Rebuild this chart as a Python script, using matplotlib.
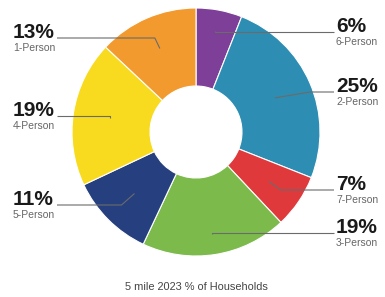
import numpy as np
import matplotlib
matplotlib.use("Agg")
import matplotlib.pyplot as plt

categories = ['6-Person', '2-Person', '7-Person', '3-Person', '5-Person', '4-Person', '1-Person']
values = [6, 25, 7, 19, 11, 19, 13]
pct_labels = ['6%', '25%', '7%', '19%', '11%', '19%', '13%']
colors = ['#7D3F98', '#2E8DB2', '#E0393C', '#7CBA4C', '#263F7E', '#F8DB1E', '#F29A2E']
title = '5 mile 2023 % of Households'

W, H = 385, 297
# layout (pixel positions, y measured from top)
cx, cy, R, hole = 196, 132, 124, 46
side = ['R', 'R', 'R', 'R', 'L', 'L', 'L']
line_y = [32, 92, 190, 233, 205, 116, 38]
inner_r = [103, 86, 88, 103, 87, 87, 91]
elbow_dx = [0, 35, 12, 0, -13, 0, -5]
xL_text, xL_line = 13, 57
xR_text, xR_line = 336, 334

fig = plt.figure(figsize=(W / 100, H / 100), dpi=100)
ax = fig.add_axes([0, 0, 1, 1])

def Y(y):
    return H - y

wedges, _ = ax.pie(values, colors=colors, startangle=90, counterclock=False,
                   center=(cx, Y(cy)), radius=R,
                   wedgeprops=dict(width=R - hole, edgecolor='white', linewidth=0.8))

ax.set_xlim(0, W)
ax.set_ylim(0, H)
ax.set_aspect('equal')
ax.axis('off')

for i, w in enumerate(wedges):
    ang = np.deg2rad((w.theta1 + w.theta2) / 2)
    px = cx + inner_r[i] * np.cos(ang)
    py = Y(cy) + inner_r[i] * np.sin(ang)
    ex = px + elbow_dx[i]
    ey = Y(line_y[i])
    if side[i] == 'R':
        xs = [px, ex, xR_line]
        tx = xR_text
    else:
        xs = [px, ex, xL_line]
        tx = xL_text
    ax.plot(xs, [py, ey, ey], color='#6b6b6b', lw=0.8, solid_capstyle='butt')
    ax.text(tx, Y(line_y[i]), pct_labels[i], ha='left', va='baseline',
            fontsize=15, fontweight='bold', family='Liberation Sans', color='#1a1a1a')
    ax.text(tx, Y(line_y[i] + 5), categories[i], ha='left', va='top',
            fontsize=7.5, family='Liberation Sans', color='#666666')

ax.text(cx, Y(287), title, ha='center', va='center', fontsize=7.9,
        family='Liberation Sans', color='#444444')

fig.savefig('out.png', dpi=100)
